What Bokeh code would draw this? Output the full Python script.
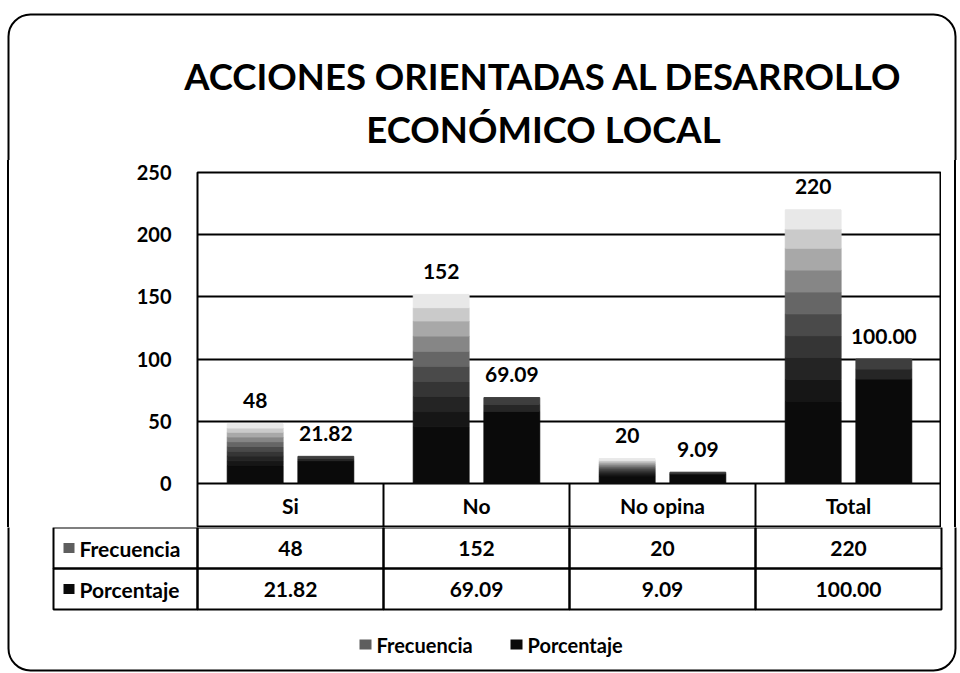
from bokeh.plotting import figure
from bokeh.layouts import column, row
from bokeh.models import (ColumnDataSource, FactorRange, Range1d, LabelSet,
                          BoxAnnotation, FixedTicker, Spacer)
from bokeh.transform import dodge
from bokeh.embed import file_html
from bokeh.resources import INLINE
from bokeh.core.properties import value

# ---------------- data ----------------
categories = ["Si", "No", "No opina", "Total"]
frecuencia = [48, 152, 20, 220]
porcentaje = [21.82, 69.09, 9.09, 100.00]
series_names = ["Frecuencia", "Porcentaje"]
y_ticks = [0, 50, 100, 150, 200, 250]
title_lines = ["ACCIONES ORIENTADAS AL DESARROLLO", "ECONÓMICO LOCAL"]

frec_txt = [str(v) for v in frecuencia]
porc_txt = [f"{v:.2f}" for v in porcentaje]

# ---------------- styles / geometry ----------------
FONT = "Lato"
FREC_STOPS = [0, 0.30, 0.38, 0.46, 0.54, 0.62, 0.70, 0.78, 0.86, 0.93, 1.0]
FREC_SHADES = ["#0b0b0b", "#161616", "#242424", "#353535", "#4a4a4a",
               "#666666", "#868686", "#a8a8a8", "#cacaca", "#e8e8e8"]
PORC_STOPS = [0, 0.84, 0.92, 1.0]
PORC_SHADES = ["#0a0a0a", "#262626", "#3e3e3e"]
ICON_COLORS = ["#5e5e5e", "#0a0a0a"]

W, H = 960, 673
FL, FR = 197, 941           # plot area left / right
FT, FB, TB = 172, 483, 527  # plot top, zero line, bottom of category row
T_H = FT - 12               # title strip height
L_W = 128
Y_MAX = 250
N = len(categories)
CW = (FR - FL) / N
PX_PER_UNIT = (FB - FT) / Y_MAX
ROW_DATA = (TB - FB) / PX_PER_UNIT
MID_H = TB - T_H
D_H = H - TB
B_L, B_R, B_T, B_B, B_RAD = 8, 955, 14, 670, 22   # rounded outer border
FAR = 5000


def deco(width, height):
    f = figure(width=width, height=height, x_range=Range1d(0, width),
               y_range=Range1d(height, 0), output_backend="svg", toolbar_location=None,
               x_axis_location=None, y_axis_location=None,
               min_border_left=0, min_border_right=0, min_border_top=0, min_border_bottom=0)
    f.outline_line_color = None
    f.background_fill_color = "white"
    f.border_fill_color = "white"
    f.grid.visible = False
    return f


def edge_box(f, left, right, top, bottom, width=2, radius=0):
    f.add_layout(BoxAnnotation(left=left, right=right, top=top, bottom=bottom,
                               fill_color=None, fill_alpha=0, line_color="black",
                               line_alpha=1, line_width=width, border_radius=radius))


def txt(f, x, y, texts, size, align="center", baseline="middle", style="bold"):
    f.text(x=x, y=y, text=texts, text_align=align, text_baseline=baseline,
           text_font=value(FONT), text_font_style=style, text_font_size=size,
           text_color="black")


def strip(width, line_at):
    a, b = line_at - 1, line_at + 1
    grad = (f"linear-gradient(to right, white {a}px, black {a}px, "
            f"black {b}px, white {b}px)")
    return Spacer(width=width, height=MID_H,
                  styles={"background": grad, "min-width": f"{width}px"})

# ---------------- title strip ----------------
top = deco(W, T_H)
edge_box(top, B_L, B_R, B_T, FAR, radius=B_RAD)
txt(top, [543, 543], [75, 128], title_lines, "36.5px", baseline="alphabetic")

# ---------------- chart ----------------
p = figure(width=FR - L_W, height=MID_H, x_range=FactorRange(*categories, range_padding=0),
           y_range=Range1d(-ROW_DATA, Y_MAX), output_backend="svg", toolbar_location=None,
           x_axis_location=None,
           min_border_left=FL - L_W, min_border_right=0,
           min_border_top=FT - T_H, min_border_bottom=0)
p.background_fill_color = None
p.border_fill_color = None
p.outline_line_color = "black"
p.outline_line_width = 2

ticker = FixedTicker(ticks=y_ticks)
p.yaxis.ticker = ticker
p.yaxis.major_label_text_font = FONT
p.yaxis.major_label_text_font_size = "20px"
p.yaxis.major_label_text_font_style = "bold"
p.yaxis.major_label_text_color = "black"
p.yaxis.major_tick_line_color = None
p.yaxis.minor_tick_line_color = None
p.yaxis.axis_line_color = None
p.yaxis.major_label_standoff = 20
p.ygrid.ticker = ticker
p.ygrid.grid_line_color = "black"
p.ygrid.grid_line_width = 2
p.xgrid.grid_line_color = None


def slices(vals, stops, shades):
    d = dict(cat=[], bottom=[], top=[], color=[])
    for c, v in zip(categories, vals):
        for k, col in enumerate(shades):
            d["cat"].append(c)
            d["bottom"].append(v * stops[k])
            d["top"].append(v * stops[k + 1])
            d["color"].append(col)
    return ColumnDataSource(d)

OFF = 0.19
BW = 0.30
p.vbar(x=dodge("cat", -OFF, range=p.x_range), bottom="bottom", top="top", width=BW,
       fill_color="color", line_color="color", source=slices(frecuencia, FREC_STOPS, FREC_SHADES))
p.vbar(x=dodge("cat", OFF, range=p.x_range), bottom="bottom", top="top", width=BW,
       fill_color="color", line_color="color", source=slices(porcentaje, PORC_STOPS, PORC_SHADES))

src = ColumnDataSource(dict(cat=categories, frec=frecuencia, porc=porcentaje,
                            frec_txt=frec_txt, porc_txt=porc_txt))
for off, ycol, tcol in [(-OFF, "frec", "frec_txt"), (OFF, "porc", "porc_txt")]:
    p.add_layout(LabelSet(x=dodge("cat", off, range=p.x_range), y=ycol, text=tcol, source=src,
                          y_offset=23, text_align="center", text_baseline="middle",
                          text_font=value(FONT), text_font_style="bold",
                          text_font_size="21px", text_color="black"))

# category row of the data table (inside the frame, below zero)
cat_src = ColumnDataSource(dict(cat=categories, y=[-ROW_DATA / 2] * N))
p.text(x="cat", y="y", text="cat", source=cat_src, text_align="center",
       text_baseline="middle", text_font=value(FONT), text_font_style="bold",
       text_font_size="21px", text_color="black")
div_src = ColumnDataSource(dict(cat=categories[:-1], y0=[-ROW_DATA] * (N - 1), y1=[0] * (N - 1)))
p.segment(x0=dodge("cat", 0.5, range=p.x_range), x1=dodge("cat", 0.5, range=p.x_range),
          y0="y0", y1="y1", source=div_src, line_color="black", line_width=2)

# ---------------- table rows + legend ----------------
d = deco(W, D_H)
edge_box(d, B_L, B_R, -FAR, B_B - TB, radius=B_RAD)
ROW_H = 41
HEAD_L = 53
col_edges = [FL + i * CW for i in range(N + 1)]
lefts, rights, tops, bottoms = [], [], [], []
for r in range(2):
    xs = [HEAD_L] + col_edges
    for a, b in zip(xs[:-1], xs[1:]):
        lefts.append(a); rights.append(b)
        tops.append(r * ROW_H); bottoms.append((r + 1) * ROW_H)
d.quad(left=lefts, right=rights, top=tops, bottom=bottoms, fill_color=None,
       line_color="black", line_width=2)

centers = [FL + (i + 0.5) * CW for i in range(N)]
for r, texts in enumerate([frec_txt, porc_txt]):
    yc = (r + 0.5) * ROW_H
    txt(d, centers, [yc] * N, texts, "21px")
    d.quad(left=[63], right=[74], top=[yc - 5], bottom=[yc + 5], fill_color=ICON_COLORS[r],
           line_color=None)
    txt(d, [79], [yc], [series_names[r]], "21px", align="left")

LEG_Y = 117
for name, col, ix in zip(series_names, ICON_COLORS, [359, 510]):
    d.quad(left=[ix], right=[ix + 12], top=[LEG_Y - 5], bottom=[LEG_Y + 5], fill_color=col,
           line_color=None)
    txt(d, [ix + 17], [LEG_Y], [name], "20px", align="left")

middle = row(strip(L_W, B_L), p, strip(W - FR, B_R - FR))
layout = column(top, middle, d)
open("out.html", "w").write(file_html(layout, INLINE))
